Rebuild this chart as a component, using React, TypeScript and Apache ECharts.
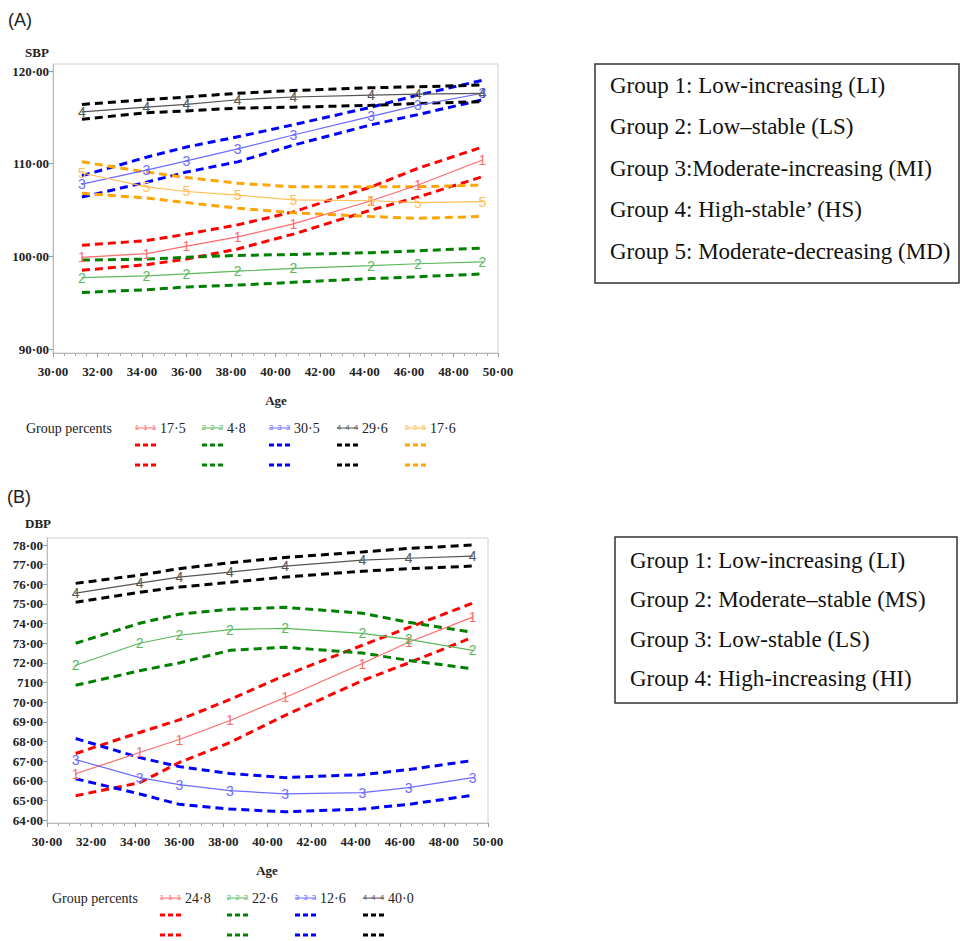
import React, { useEffect, useRef } from "react";
import * as echarts from "echarts";

// Ages at which trajectories were estimated
const AGES = [31.3, 34.2, 36.0, 38.3, 40.8, 44.3, 46.4, 49.3];

// (A) SBP trajectories
const SBP_G1 = [99.9, 100.3, 101.1, 102.1, 103.5, 106.0, 107.7, 110.4];
const SBP_G1_UP = [101.2, 101.7, 102.4, 103.4, 104.8, 107.5, 109.5, 111.8];
const SBP_G1_LO = [98.5, 99.1, 99.7, 100.8, 102.4, 105.0, 106.4, 108.6];
const SBP_G2 = [97.7, 97.9, 98.1, 98.4, 98.7, 99.0, 99.2, 99.4];
const SBP_G2_UP = [99.6, 99.7, 99.9, 100.1, 100.2, 100.4, 100.6, 100.9];
const SBP_G2_LO = [96.1, 96.4, 96.7, 96.9, 97.2, 97.6, 97.8, 98.1];
const SBP_G3 = [107.8, 109.3, 110.3, 111.6, 113.1, 115.1, 116.3, 117.6];
const SBP_G3_UP = [108.7, 110.7, 111.8, 112.9, 114.2, 116.1, 117.4, 119.0];
const SBP_G3_LO = [106.4, 108.0, 109.1, 110.2, 112.0, 114.2, 115.3, 116.9];
const SBP_G4 = [115.6, 116.1, 116.4, 116.9, 117.2, 117.4, 117.5, 117.6];
const SBP_G4_UP = [116.4, 116.9, 117.2, 117.6, 117.9, 118.2, 118.3, 118.5];
const SBP_G4_LO = [114.8, 115.5, 115.7, 116.0, 116.1, 116.3, 116.5, 116.7];
const SBP_G5 = [109.0, 107.5, 107.0, 106.6, 106.1, 106.0, 105.8, 105.9];
const SBP_G5_UP = [110.2, 109.1, 108.5, 107.9, 107.5, 107.5, 107.5, 107.7];
const SBP_G5_LO = [106.8, 106.3, 105.8, 105.2, 104.7, 104.3, 104.1, 104.3];
const SBP_PERCENTS = ["17·5", "4·8", "30·5", "29·6", "17·6"];
const SBP_TICKS = [90, 100, 110, 120];
const SBP_GROUPS = [
  "Group 1: Low-increasing (LI)",
  "Group 2: Low–stable (LS)",
  "Group 3:Moderate-increasing (MI)",
  "Group 4: High-stable’ (HS)",
  "Group 5: Moderate-decreasing (MD)",
];

// (B) DBP trajectories
const DBP_G1 = [66.36, 67.44, 68.1, 69.07, 70.24, 71.97, 73.05, 74.33];
const DBP_G1_UP = [67.39, 68.46, 69.1, 70.14, 71.37, 72.9, 73.8, 75.04];
const DBP_G1_LO = [65.24, 65.9, 66.93, 67.95, 69.33, 71.1, 72.0, 73.3];
const DBP_G2 = [71.88, 73.0, 73.41, 73.7, 73.76, 73.5, 73.2, 72.64];
const DBP_G2_UP = [73.0, 74.02, 74.48, 74.73, 74.83, 74.53, 74.07, 73.56];
const DBP_G2_LO = [70.86, 71.6, 72.0, 72.64, 72.8, 72.5, 72.13, 71.7];
const DBP_G3 = [67.08, 66.16, 65.8, 65.5, 65.33, 65.4, 65.65, 66.16];
const DBP_G3_UP = [68.15, 67.18, 66.72, 66.37, 66.16, 66.31, 66.57, 67.03];
const DBP_G3_LO = [66.1, 65.33, 64.8, 64.56, 64.42, 64.56, 64.8, 65.26];
const DBP_G4 = [75.55, 76.06, 76.37, 76.62, 76.93, 77.23, 77.33, 77.44];
const DBP_G4_UP = [76.05, 76.47, 76.8, 77.1, 77.37, 77.65, 77.83, 78.0];
const DBP_G4_LO = [75.09, 75.6, 75.86, 76.1, 76.37, 76.67, 76.8, 76.93];
const DBP_PERCENTS = ["24·8", "22·6", "12·6", "40·0"];
const DBP_TICKS = [64, 65, 66, 67, 68, 69, 70, 71, 72, 73, 74, 75, 76, 77, 78];
const DBP_GROUPS = [
  "Group 1: Low-increasing (LI)",
  "Group 2: Moderate–stable (MS)",
  "Group 3: Low-stable (LS)",
  "Group 4: High-increasing (HI)",
];

const X_MIN = 30;
const X_MAX = 50;

const SOLID = ["#ff6b6b", "#5cb85c", "#6b6bff", "#555555", "#ffbf55"];
const DASH = ["#ff0000", "#008000", "#0000ff", "#000000", "#ffa500"];

const SERIF = "'Liberation Serif', 'DejaVu Serif', serif";
const fmt = (v: number) => v.toFixed(2).replace(".", "·");

function pts(arr: number[]) {
  return AGES.map((a, i) => [a, arr[i]]);
}

function groupSeries(ax: number, mid: number[], up: number[], lo: number[], g: number) {
  const dash = {
    type: "line",
    xAxisIndex: ax,
    yAxisIndex: ax,
    symbol: "none",
    silent: true,
    z: 2,
    lineStyle: { color: DASH[g], width: 3, type: [8, 5] },
  };
  return [
    { ...dash, name: `g${g + 1}up-${ax}`, data: pts(up) },
    { ...dash, name: `g${g + 1}lo-${ax}`, data: pts(lo) },
    {
      type: "line",
      name: `g${g + 1}-${ax}`,
      xAxisIndex: ax,
      yAxisIndex: ax,
      data: pts(mid),
      symbol: "circle",
      symbolSize: 1,
      showSymbol: true,
      silent: true,
      z: 3,
      itemStyle: { color: SOLID[g] },
      lineStyle: { color: SOLID[g], width: 1.2 },
      label: {
        show: true,
        position: "inside",
        formatter: String(g + 1),
        color: SOLID[g],
        fontSize: 14,
        fontFamily: "Liberation Sans",
      },
    },
  ];
}

function legendItems(x0s: number[], y: number, percents: string[]) {
  const els: any[] = [];
  x0s.forEach((x0, g) => {
    els.push({
      type: "line",
      shape: { x1: x0, y1: y, x2: x0 + 21, y2: y },
      style: { stroke: SOLID[g], lineWidth: 1 },
    });
    [2, 10.5, 19].forEach((dx) =>
      els.push({
        type: "text",
        x: x0 + dx,
        y: y - 1,
        style: {
          text: String(g + 1),
          fill: SOLID[g],
          fontSize: 8,
          fontFamily: "Liberation Sans",
          align: "center",
          verticalAlign: "middle",
        },
      })
    );
    els.push({
      type: "text",
      x: x0 + 25,
      y,
      style: {
        text: percents[g],
        fill: "#222",
        fontSize: 14,
        fontFamily: SERIF,
        verticalAlign: "middle",
      },
    });
    [17, 37].forEach((dy) =>
      [0, 8, 16].forEach((dx) =>
        els.push({
          type: "rect",
          shape: { x: x0 + dx, y: y + dy - 1.5, width: 5, height: 3 },
          style: { fill: DASH[g] },
        })
      )
    );
  });
  return els;
}

function textEl(text: string, x: number, y: number, extra: any = {}) {
  return {
    type: "text",
    x,
    y,
    style: {
      text,
      fill: "#222",
      fontSize: 13,
      fontFamily: SERIF,
      verticalAlign: "middle",
      ...extra,
    },
  };
}

function groupBox(x: number, y: number, w: number, h: number, lines: string[], ty0: number, step: number) {
  const els: any[] = [
    {
      type: "rect",
      shape: { x, y, width: w, height: h },
      style: { fill: "#fff", stroke: "#333", lineWidth: 1.5 },
    },
  ];
  lines.forEach((t, i) =>
    els.push(textEl(t, x + 15, ty0 + i * step, { fontSize: 23, fill: "#111" }))
  );
  return els;
}

function xAxisCfg(gridIndex: number) {
  return {
    type: "value",
    gridIndex,
    min: X_MIN,
    max: X_MAX,
    interval: 2,
    axisLine: { show: true, lineStyle: { color: "#bbbbbb" } },
    axisTick: { show: true, length: 4, lineStyle: { color: "#999" } },
    minorTick: { show: true, splitNumber: 4, length: 3, lineStyle: { color: "#aaa" } },
    splitLine: { show: false },
    axisLabel: {
      formatter: fmt,
      fontFamily: SERIF,
      fontWeight: "bold",
      fontSize: 13,
      color: "#222",
      margin: 12,
    },
  };
}

function yAxisCfg(gridIndex: number, min: number, max: number, ticks: number[], fmtFn: (v: number) => string) {
  return {
    type: "value",
    gridIndex,
    min,
    max,
    axisLine: { show: true, lineStyle: { color: "#bbbbbb" } },
    axisTick: { show: true, length: 4, customValues: ticks, lineStyle: { color: "#999" } },
    splitLine: { show: false },
    axisLabel: {
      customValues: ticks,
      formatter: fmtFn,
      fontFamily: SERIF,
      fontWeight: "bold",
      fontSize: 13,
      color: "#222",
      margin: 4,
    },
  };
}

export default function App() {
  const ref = useRef<HTMLDivElement>(null);
  useEffect(() => {
    if (!ref.current) return;
    const chart = echarts.init(ref.current, null, { renderer: "svg" });
    const sbp = [
      [SBP_G1, SBP_G1_UP, SBP_G1_LO],
      [SBP_G2, SBP_G2_UP, SBP_G2_LO],
      [SBP_G3, SBP_G3_UP, SBP_G3_LO],
      [SBP_G4, SBP_G4_UP, SBP_G4_LO],
      [SBP_G5, SBP_G5_UP, SBP_G5_LO],
    ];
    const dbp = [
      [DBP_G1, DBP_G1_UP, DBP_G1_LO],
      [DBP_G2, DBP_G2_UP, DBP_G2_LO],
      [DBP_G3, DBP_G3_UP, DBP_G3_LO],
      [DBP_G4, DBP_G4_UP, DBP_G4_LO],
    ];
    const series: any[] = [];
    sbp.forEach((s, g) => series.push(...groupSeries(0, s[0], s[1], s[2], g)));
    dbp.forEach((s, g) => series.push(...groupSeries(1, s[0], s[1], s[2], g)));

    const graphic: any[] = [
      textEl("(A)", 8, 20, { fontFamily: "Liberation Sans", fontSize: 18 }),
      textEl("SBP", 25, 52, { fontWeight: "bold" }),
      textEl("Age", 276, 400, { fontWeight: "bold", align: "center" }),
      textEl("Group percents", 26, 428, { fontSize: 14 }),
      ...legendItems([135, 202, 269, 337, 405], 428, SBP_PERCENTS),
      ...groupBox(595, 64, 364, 219, SBP_GROUPS, 85, 41.5),
      textEl("(B)", 7, 497, { fontFamily: "Liberation Sans", fontSize: 18 }),
      textEl("DBP", 25, 523, { fontWeight: "bold" }),
      textEl("Age", 267, 870, { fontWeight: "bold", align: "center" }),
      textEl("Group percents", 52, 898, { fontSize: 14 }),
      ...legendItems([160, 227, 295, 363], 898, DBP_PERCENTS),
      ...groupBox(615, 537, 342, 166, DBP_GROUPS, 560, 39.5),
    ];

    chart.setOption({
      animation: false,
      backgroundColor: "#fff",
      grid: [
        { left: 53, top: 64, width: 445, height: 289, show: true, borderColor: "#d0d0d0", borderWidth: 1 },
        { left: 47, top: 538, width: 441, height: 285, show: true, borderColor: "#d0d0d0", borderWidth: 1 },
      ],
      xAxis: [xAxisCfg(0), xAxisCfg(1)],
      yAxis: [
        yAxisCfg(0, 89.57, 120.76, SBP_TICKS, fmt),
        yAxisCfg(1, 63.85, 78.36, DBP_TICKS, (v: number) => (v === 71 ? "7100" : fmt(v))),
      ],
      series,
      graphic,
    });
    return () => chart.dispose();
  }, []);
  return (
    <div
      ref={ref}
      style={{ position: "fixed", left: 0, top: 0, width: 960, height: 941, background: "#fff" }}
    />
  );
}
